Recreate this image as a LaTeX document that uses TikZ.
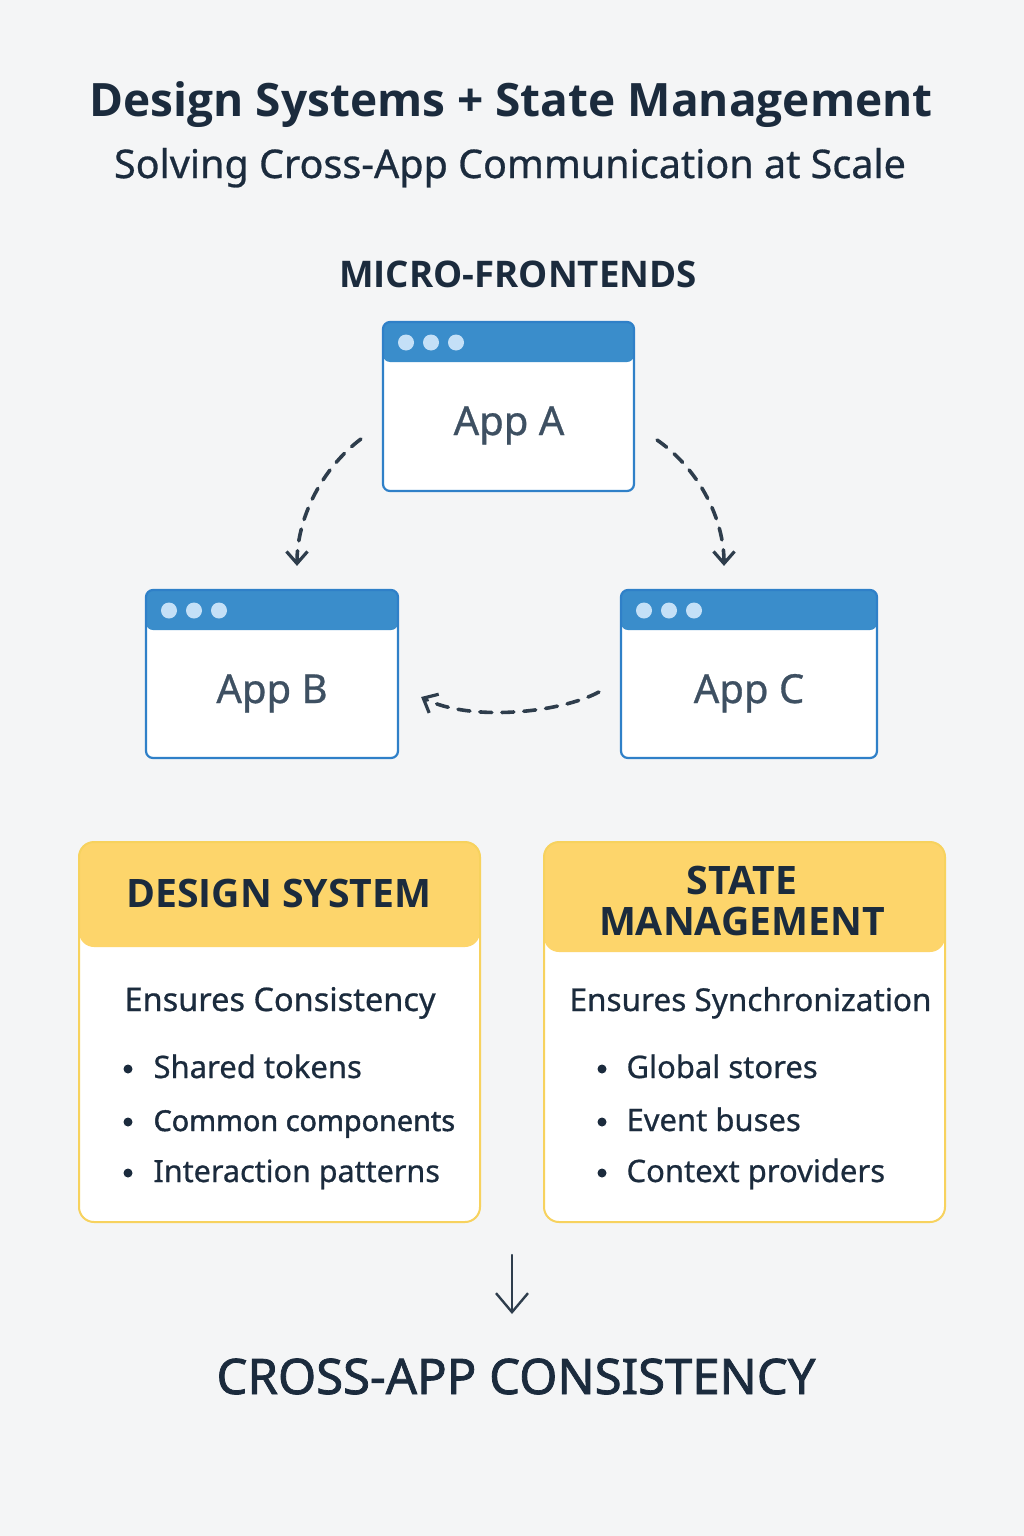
\documentclass[tikz,border=0pt]{standalone}
\usepackage{fontspec}
\setmainfont{Noto Sans}[FakeBold=0.7]
\newfontfamily\headfont{Open Sans}
\newfontfamily\semifont[FakeBold=1.6]{Noto Sans}
\usetikzlibrary{arrows.meta,calc}

\definecolor{bgcol}{HTML}{F4F5F6}
\definecolor{navy}{HTML}{1B2B3D}
\definecolor{apptext}{HTML}{3E5062}
\definecolor{appborder}{HTML}{2F80C8}
\definecolor{apphead}{HTML}{3A8DCB}
\definecolor{appdot}{HTML}{C4E0F7}
\definecolor{cardhead}{HTML}{FDD56B}
\definecolor{cardborder}{HTML}{F7D25E}
\definecolor{arrowcol}{HTML}{2E3D4C}

\newcommand{\fsz}[1]{\fontsize{#1}{#1}\selectfont}

\tikzset{
  appwin/.style={draw=appborder, line width=2.2pt, fill=white,
    rounded corners=7pt, inner sep=0pt, minimum height=169pt,
    path picture={
      \fill[apphead] (path picture bounding box.north west)
        rectangle ([yshift=-40pt]path picture bounding box.north east);
      \foreach \i in {0,1,2}
        \fill[appdot] ([xshift=23pt+\i*25pt, yshift=-20.5pt]path picture bounding box.north west) circle (8pt);
    }},
  applabel/.style={anchor=base, text=apptext, font=\fsz{40}},
  card/.style={draw=cardborder, line width=2pt, fill=white,
    rounded corners=15pt, inner sep=0pt, minimum width=401pt, minimum height=380pt,
    path picture={
      \fill[cardhead] (path picture bounding box.north west)
        rectangle ([yshift=-#1]path picture bounding box.north east);
    }},
  cardtitle/.style={anchor=base, text=navy, font=\headfont\bfseries\fsz{39.2}},
  cardlead/.style={anchor=base west, text=navy, font=\fsz{31.5}},
  item/.style={anchor=base west, text=navy, font=\fsz{31}},
  bulletdot/.style={circle, fill=navy, inner sep=0pt, minimum size=9pt},
  flow/.style={draw=arrowcol, line width=3.6pt, line cap=round,
    dash pattern=on 12pt off 10pt,
    -{Straight Barb[length=12pt, width=21pt, line width=3.2pt]}},
}

\begin{document}
\begin{tikzpicture}[x=1pt, y=-1pt]
  % page
  \fill[bgcol] (0,0) rectangle (1024,1536);
  \useasboundingbox (0,0) rectangle (1024,1536);

  % headings
  \node[anchor=base, text=navy, font=\headfont\bfseries\fsz{46}] (title) at (511,117)
    {Design Systems + State Management};
  \node[anchor=base, text=navy, font=\fsz{39.5}] (subtitle) at (510,178)
    {Solving Cross-App Communication at Scale};
  \node[anchor=base, text=navy, font=\headfont\bfseries\fsz{36.7}] (mfe) at (518,287)
    {MICRO-FRONTENDS};

  % application windows
  \node[appwin, minimum width=251pt] (appA) at (508.5,406.5) {};
  \node[applabel] (appAlabel) at (509,435) {App A};
  \node[appwin, minimum width=252pt, minimum height=168pt] (appB) at (272,674) {};
  \node[applabel] (appBlabel) at (272,703) {App B};
  \node[appwin, minimum width=256pt, minimum height=168pt] (appC) at (749,674) {};
  \node[applabel] (appClabel) at (749,703) {App C};

  % message flow between the windows
  \coordinate (ab0) at ($(appA.west)+(-21,32.5)$);
  \coordinate (ab1) at ($(appB.north)+(25,-23)$);
  \coordinate (ac0) at ($(appA.east)+(22,33.5)$);
  \coordinate (ac1) at ($(appC.north)+(-25,-23)$);
  \coordinate (cb0) at ($(appC.west)+(-21,18)$);
  \coordinate (cb1) at ($(appB.east)+(22,23)$);
  \draw[flow] (ab0) .. controls (320,470) and (297,520) .. (ab1);
  \draw[flow] (ac0) .. controls (700,470) and (724,520) .. (ac1);
  \draw[flow] (cb0) .. controls (560,713) and (470,722) .. (cb1);

  % design system card
  \node[card=105pt] (ds) at (279.5,1032) {};
  \node[cardtitle] (dstitle) at (279,907) {DESIGN SYSTEM};
  \node[cardlead, font=\fsz{32.5}] (dslead) at (121,1011) {Ensures Consistency};
  \node[bulletdot] (dsb1) at (128,1069) {};
  \node[item] (dsi1) at (150,1078) {Shared tokens};
  \node[bulletdot] (dsb2) at (128,1122) {};
  \node[item, font=\semifont\fsz{28.8}] (dsi2) at (150,1131) {Common components};
  \node[bulletdot] (dsb3) at (128,1173) {};
  \node[item, font=\fsz{30.5}] (dsi3) at (150,1182) {Interaction patterns};

  % state management card
  \node[card=110pt] (sm) at (744.5,1032) {};
  \node[cardtitle] (smtitle1) at (742,894) {STATE};
  \node[cardtitle] (smtitle2) at (742,935) {MANAGEMENT};
  \node[cardlead] (smlead) at (566,1011) {Ensures Synchronization};
  \node[bulletdot] (smb1) at (602,1069) {};
  \node[item] (smi1) at (623,1078) {Global stores};
  \node[bulletdot] (smb2) at (602,1122) {};
  \node[item] (smi2) at (623,1131) {Event buses};
  \node[bulletdot] (smb3) at (602,1173) {};
  \node[item] (smi3) at (623,1182) {Context providers};

  % outcome
  \node[anchor=base, text=navy, font=\semifont\fsz{49}] (outcome) at (516,1394)
    {CROSS-APP CONSISTENCY};
  \coordinate (down0) at (512,1255);
  \coordinate (down1) at ($(outcome.base)+(-4,-80)$);
  \draw[arrowcol, line width=2.4pt, line cap=round,
    -{Straight Barb[length=19pt, width=32pt, line width=2.4pt]}] (down0) -- (down1);
\end{tikzpicture}
\end{document}
